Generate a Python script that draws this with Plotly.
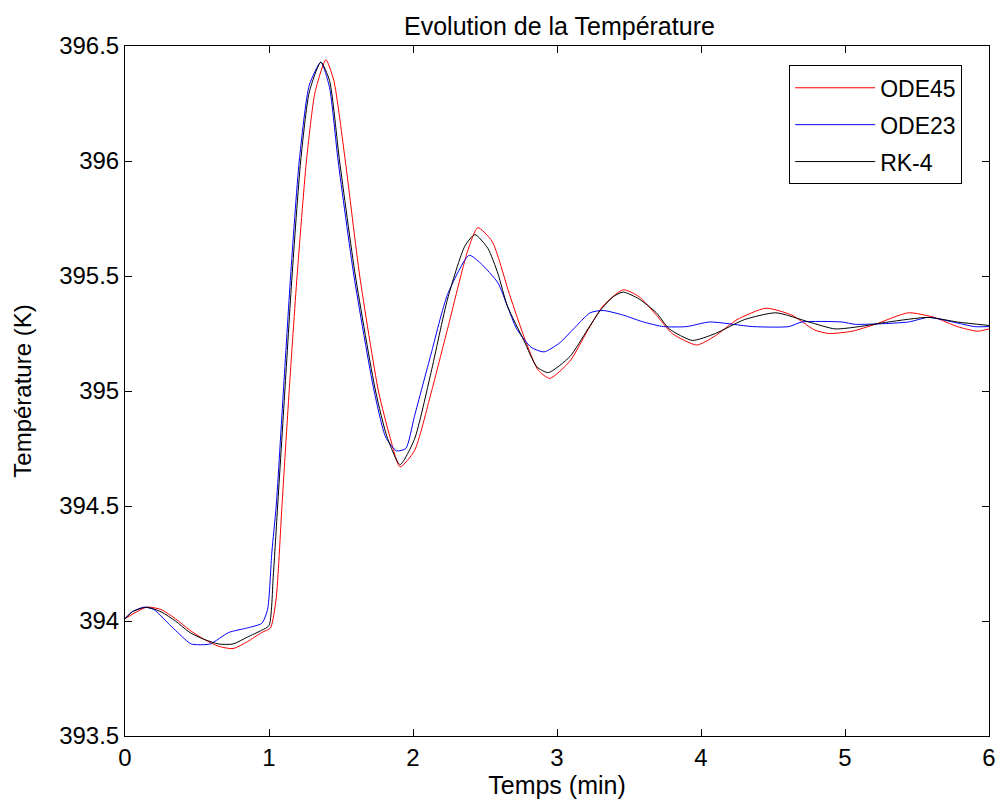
import plotly.graph_objects as go

# ---- data ----
t_ode45 = [0, 0.15, 0.25, 0.35, 0.45, 0.55, 0.65, 0.75, 0.85, 0.95, 1.01, 1.05, 1.09, 1.14, 1.195,
           1.26, 1.32, 1.395, 1.45, 1.53, 1.63, 1.76, 1.84, 1.91, 2.01, 2.125, 2.24, 2.38, 2.45,
           2.55, 2.67, 2.78, 2.87, 2.95, 3.09, 3.21, 3.32, 3.46, 3.57, 3.69, 3.80, 3.97, 4.1,
           4.25, 4.45, 4.63, 4.79, 4.89, 5.05, 5.21, 5.44, 5.62, 5.78, 5.92, 6.0]
T_ode45 = [394.01, 394.06, 394.05, 394.01, 393.96, 393.92, 393.89, 393.88, 393.91, 393.95, 393.97,
           394.10, 394.50, 395.00, 395.50, 396.00, 396.30, 396.44, 396.35, 396.00, 395.50, 395.00,
           394.80, 394.67, 394.74, 394.99, 395.27, 395.61, 395.71, 395.65, 395.42, 395.22, 395.09,
           395.055, 395.13, 395.26, 395.37, 395.44, 395.41, 395.33, 395.25, 395.20, 395.24, 395.31,
           395.36, 395.33, 395.265, 395.25, 395.26, 395.29, 395.34, 395.32, 395.28, 395.26, 395.27]

t_ode23 = [0, 0.05, 0.13, 0.2, 0.3, 0.4, 0.46, 0.59, 0.72, 0.85, 0.95, 0.99, 1.02, 1.05, 1.10,
           1.15, 1.21, 1.28, 1.36, 1.42, 1.48, 1.59, 1.73, 1.81, 1.885, 1.95, 2.01, 2.125, 2.24,
           2.39, 2.47, 2.59, 2.655, 2.72, 2.82, 2.91, 3.02, 3.115, 3.23, 3.32, 3.46, 3.60, 3.74,
           3.90, 4.06, 4.36, 4.61, 4.70, 4.98, 5.07, 5.44, 5.58, 5.75, 5.90, 6.0]
T_ode23 = [394.01, 394.04, 394.06, 394.05, 393.99, 393.93, 393.90, 393.90, 393.95, 393.97, 393.99,
           394.05, 394.30, 394.50, 395.00, 395.50, 396.00, 396.33, 396.43, 396.32, 396.00, 395.50,
           395.00, 394.80, 394.74, 394.75, 394.89, 395.16, 395.42, 395.59, 395.555, 395.47, 395.37,
           395.27, 395.19, 395.17, 395.21, 395.27, 395.34, 395.35, 395.33, 395.30, 395.28, 395.28,
           395.30, 395.28, 395.28, 395.30, 395.30, 395.29, 395.30, 395.32, 395.30, 395.28, 395.28]

t_rk4 = [0, 0.05, 0.15, 0.25, 0.35, 0.45, 0.55, 0.65, 0.75, 0.85, 0.95, 1.00, 1.03, 1.06, 1.11,
         1.16, 1.22, 1.28, 1.36, 1.42, 1.49, 1.60, 1.74, 1.82, 1.91, 2.01, 2.125, 2.24, 2.36,
         2.43, 2.52, 2.59, 2.655, 2.77, 2.86, 2.94, 3.09, 3.21, 3.30, 3.39, 3.46, 3.57, 3.69,
         3.78, 3.94, 4.1, 4.3, 4.52, 4.75, 4.93, 5.1, 5.3, 5.58, 5.78, 6.0]
T_rk4 = [394.01, 394.04, 394.06, 394.04, 394.00, 393.95, 393.92, 393.90, 393.90, 393.93, 393.96,
         393.98, 394.20, 394.50, 395.00, 395.50, 396.00, 396.30, 396.43, 396.35, 396.00, 395.50,
         395.00, 394.80, 394.68, 394.79, 395.08, 395.40, 395.63, 395.68, 395.62, 395.51, 395.37,
         395.22, 395.105, 395.08, 395.15, 395.265, 395.35, 395.41, 395.43, 395.40, 395.34, 395.27,
         395.22, 395.25, 395.31, 395.34, 395.30, 395.27, 395.28, 395.30, 395.32, 395.30, 395.285]

x_ticks = [0, 1, 2, 3, 4, 5, 6]
y_ticks = [393.5, 394, 394.5, 395, 395.5, 396, 396.5]
y_tick_text = ["393.5", "394", "394.5", "395", "395.5", "396", "396.5"]

FONT = "Arial, Liberation Sans, sans-serif"

fig = go.Figure()
series = [("ODE45", t_ode45, T_ode45, "#ff0000"),
          ("ODE23", t_ode23, T_ode23, "#0000ff"),
          ("RK-4", t_rk4, T_rk4, "#000000")]
for name, tx, ty, col in series:
    fig.add_trace(go.Scatter(x=tx, y=ty, mode="lines", name=name, legendgroup=name,
                             line=dict(color=col, width=1, shape="spline", smoothing=0.6)))

axis_common = dict(showline=True, linecolor="black", linewidth=1, mirror="ticks",
                   ticks="inside", ticklen=7, tickcolor="black", tickwidth=1,
                   showgrid=False, zeroline=False,
                   tickfont=dict(family=FONT, size=24, color="black"))

fig.update_layout(
    width=1008, height=809,
    margin=dict(l=125, r=14, t=46, b=73),
    paper_bgcolor="white", plot_bgcolor="white",
    title=dict(text="Evolution de la Température", x=0.555, xanchor="center",
               y=0.967, yanchor="middle",
               font=dict(family=FONT, size=25, color="black")),
    xaxis=dict(range=[0, 6], tickvals=x_ticks,
               title=dict(text="Temps (min)", font=dict(family=FONT, size=25, color="black"),
                          standoff=2),
               **axis_common),
    yaxis=dict(range=[393.5, 396.5], tickvals=y_ticks, ticktext=y_tick_text,
               title=dict(text="Température (K)", font=dict(family=FONT, size=24, color="black"),
                          standoff=20),
               **axis_common),
    showlegend=True,
    legend=dict(x=0.7687, xanchor="left", y=0.972, yanchor="top",
                bgcolor="white", bordercolor="black", borderwidth=1,
                font=dict(family=FONT, size=23, color="black"),
                itemwidth=80, tracegroupgap=4),
)

fig.write_html("out.html")
